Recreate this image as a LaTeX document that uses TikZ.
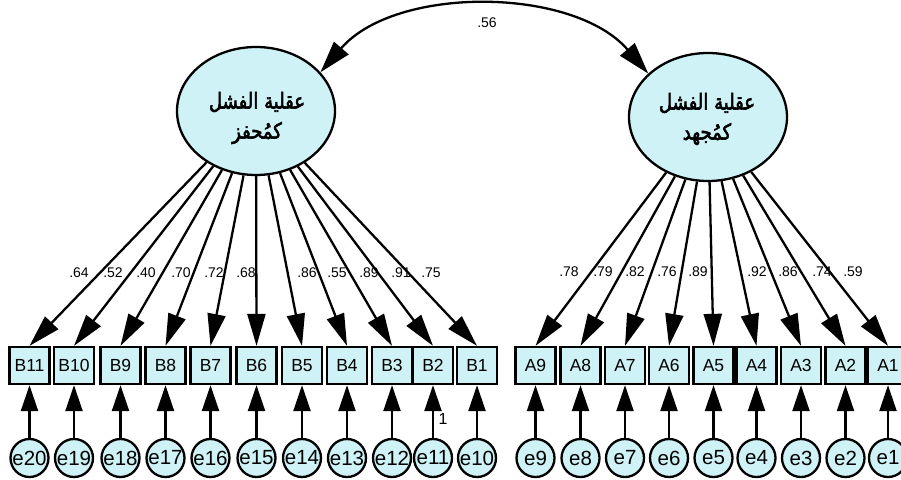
\documentclass[tikz,border=0pt]{standalone}
\usepackage{fontspec}
\usetikzlibrary{arrows.meta,shapes.geometric}
\TeXXeTstate=1
\setmainfont{Liberation Sans}
\newfontfamily\arabicfont[Script=Arabic,FakeBold=2.5,FakeStretch=0.82]{DejaVu Sans}
\definecolor{cfill}{RGB}{206,242,245}
\tikzset{
  lat/.style={ellipse, draw, line width=2.3pt, fill=cfill, minimum width=158pt, minimum height=128pt, inner sep=0pt},
  obs/.style={draw, line width=2.3pt, fill=cfill, minimum width=40pt, minimum height=37pt, inner sep=0pt, font=\fontsize{17.5}{17.5}\selectfont},
  err/.style={circle, draw, line width=2.3pt, fill=cfill, minimum size=38pt, inner sep=0pt, font=\fontsize{20.5}{20.5}\selectfont},
  coef/.style={font=\fontsize{14}{14}\selectfont, inner sep=0pt},
  load/.style={line width=2.3pt, -{Triangle[length=32pt,width=18pt]}},
  resid/.style={line width=2.3pt, -{Triangle[length=26pt,width=17pt]}},
  cov/.style={line width=2.3pt, {Triangle[length=32pt,width=19pt]}-{Triangle[length=32pt,width=19pt]}},
  arlab/.style={align=center, font=\arabicfont\fontsize{22}{30}\selectfont}
}
\begin{document}
\begin{tikzpicture}[x=1pt,y=-1pt]
\useasboundingbox (0,0) rectangle (901,479);
\clip (0,0) rectangle (901,479);

% latent factors
\node[lat] (L) at (256,111) {};
\node[lat] (R) at (708,117) {};
\node[arlab] (Lt) at (257,118) {\beginR عقلية الفشل\endR\\\beginR كمُحفز\endR};
\node[arlab] (Rt) at (707,119) {\beginR عقلية الفشل\endR\\\beginR كمُجهد\endR};

% correlation between the factors
\draw[cov] (L.31) .. controls +(75,-87) and +(-75,-87) .. (R.144);
\node[coef] (cLR) at (487,23) {.56};

% indicators of the left factor with their error terms
\foreach \b/\e/\x in {B11/e20/29.5, B10/e19/74, B9/e18/120.5, B8/e17/165.5,
                      B7/e16/210.5, B6/e15/256.5, B5/e14/302, B4/e13/347,
                      B3/e12/392, B2/e11/433, B1/e10/477}{
  \node[obs] (\b) at (\x,365.5) {\b};
  \node[err] (\e) at (\x,458) {\e};
  \draw[load] (L) -- (\b.north);
  \draw[resid] (\e) -- (\b);
}

% indicators of the right factor with their error terms
\foreach \a/\e/\x in {A9/e9/535.5, A8/e8/580.5, A7/e7/625, A6/e6/669,
                      A5/e5/713.5, A4/e4/756.5, A3/e3/801, A2/e2/845.5, A1/e1/888}{
  \node[obs] (\a) at (\x,365.5) {\a};
  \node[err] (\e) at (\x,458) {\e};
  \draw[load] (R) -- (\a.north);
  \draw[resid] (\e) -- (\a);
}

% standardized loadings
\foreach \v/\x [count=\i] in {.64/79, .52/113, .40/146, .70/181, .72/214, .68/246,
                              .86/307, .55/337, .89/369, .91/401, .75/431}{
  \node[coef] (lb\i) at (\x,273) {\v};
}
\foreach \v/\x [count=\i] in {.78/569, .79/603, .82/635, .76/667, .89/698,
                              .92/757, .86/788, .74/822, .59/853}{
  \node[coef] (la\i) at (\x,272) {\v};
}

% fixed path coefficient
\node[coef, font=\fontsize{16}{16}\selectfont] (fix) at (443,419) {1};
\end{tikzpicture}
\end{document}
